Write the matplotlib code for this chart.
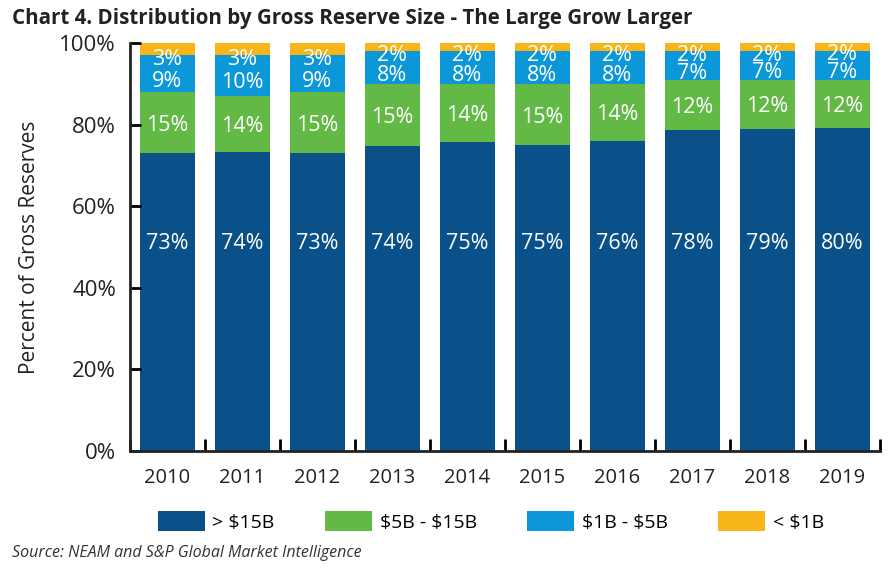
import numpy as np
import matplotlib
matplotlib.use("Agg")
import matplotlib.pyplot as plt

years = ["2010", "2011", "2012", "2013", "2014", "2015", "2016", "2017", "2018", "2019"]
over_15b = [73, 74, 73, 74, 75, 75, 76, 78, 79, 80]
b5_15 = [15, 14, 15, 15, 14, 15, 14, 12, 12, 12]
b1_5 = [9, 10, 9, 8, 8, 8, 8, 7, 7, 7]
under_1b = [3, 3, 3, 2, 2, 2, 2, 2, 2, 2]

series = [over_15b, b5_15, b1_5, under_1b]
names = ["> \\$15B", "\\$5B - \\$15B", "\\$1B - \\$5B", "< \\$1B"]
colors = ["#0A5189", "#63B946", "#0C97D8", "#F7B519"]

label_font = ["Open Sans", "DejaVu Sans"]


def main():
    fig = plt.figure(figsize=(8.96, 5.68), dpi=100)
    ax = fig.add_axes([0.145, 0.206, 0.837, 0.718])

    x = np.arange(len(years))
    data = np.array(series, dtype=float)
    # the rounded labels don't always add to 100, bars are shares of 100%
    shares = data / data.sum(axis=0) * 100
    bottom = np.zeros(len(years))
    for k, (vals, labels, name, color) in enumerate(zip(shares, data, names, colors)):
        ax.bar(x, vals, 0.73, bottom=bottom, color=color, label=name)
        for i in range(len(years)):
            if k == 0:
                ypos = 51.5
            elif k == 3:
                ypos = bottom[i] - 0.3
            elif k == 2:
                ypos = bottom[i] + vals[i] / 2 - 1.2
            else:
                ypos = bottom[i] + vals[i] / 2
            ax.text(x[i], ypos, "{}%".format(int(labels[i])), ha="center",
                    va="center_baseline", color="white", fontsize=15.5, family=label_font)
        bottom = bottom + vals

    ax.set_xlim(-0.5, 9.5)
    ax.set_ylim(0, 100)
    ax.set_xticks(x)
    ax.set_xticklabels(years, family=label_font, fontsize=14.5, color="#222222")
    ax.set_xticks(np.arange(-0.5, 10, 1), minor=True)
    ax.tick_params(axis="x", which="major", length=0, pad=12)
    ax.tick_params(axis="x", which="minor", direction="in", length=9, width=2)
    ax.set_yticks(range(0, 101, 20))
    ax.set_yticklabels(["{}%".format(v) for v in range(0, 101, 20)],
                       family=label_font, fontsize=16, color="#222222")
    ax.tick_params(axis="y", direction="in", length=8, width=2, pad=10)
    for side in ["top", "right"]:
        ax.spines[side].set_visible(False)
    for side in ["left", "bottom"]:
        ax.spines[side].set_linewidth(2)
        ax.spines[side].set_color("#222222")

    ax.set_ylabel("Percent of Gross Reserves", family=label_font, fontsize=15,
                  color="#222222", labelpad=14)

    fig.legend(loc="center", bbox_to_anchor=(0.548, 0.082), ncol=4, frameon=False,
               handlelength=2.4, handleheight=1.15, columnspacing=2.6, handletextpad=0.4,
               prop={"family": label_font, "size": 14})

    fig.text(0.013, 0.968, "Chart 4. Distribution by Gross Reserve Size - The Large Grow Larger",
             ha="left", va="center", fontsize=14.8, fontweight="bold", family=label_font,
             color="#222222")
    fig.text(0.013, 0.026, "Source: NEAM and S&P Global Market Intelligence",
             ha="left", va="center", fontsize=11.5, style="italic", family=label_font,
             color="#333333")

    fig.savefig("out.png", dpi=100)


if __name__ == "__main__":
    main()
